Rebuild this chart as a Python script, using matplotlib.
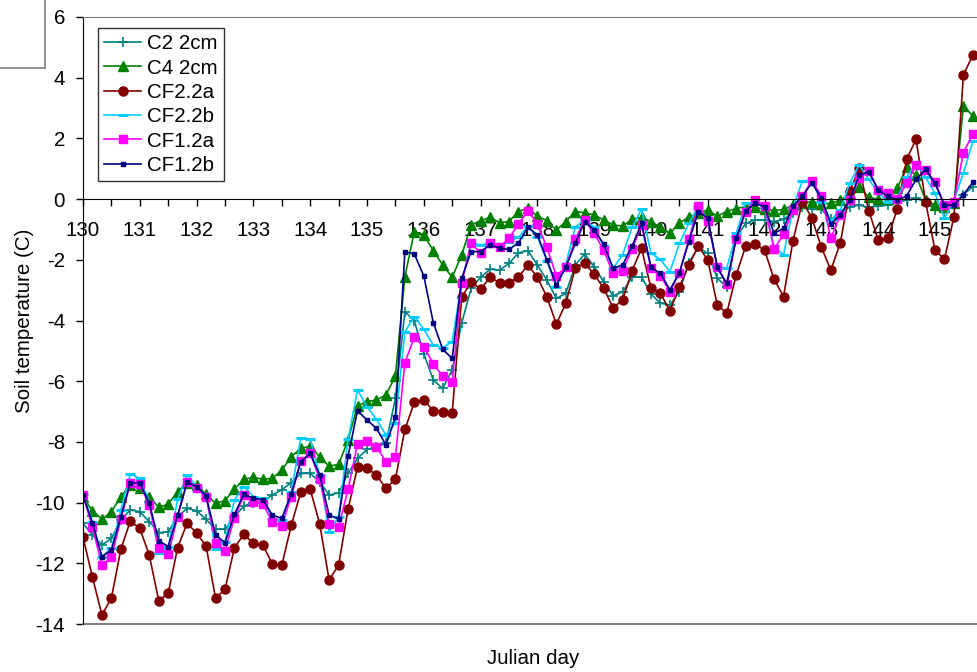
import numpy as np
import matplotlib
matplotlib.use("Agg")
import matplotlib.pyplot as plt
from matplotlib.lines import Line2D

plt.rcParams['font.family'] = ['Liberation Sans', 'DejaVu Sans']
plt.rcParams['axes.unicode_minus'] = False

# readings every 4 hours from day 130
start_day = 130
step = 1 / 6

c2_2cm = [-10.68, -11.07, -11.40, -11.18, -10.57, -10.24, -10.30, -10.63, -10.99, -10.96,
          -10.46, -10.19, -10.27, -10.55, -10.88, -10.88, -10.46, -10.11, -10.00, -9.97,
          -9.75, -9.58, -9.34, -9.04, -9.04, -9.31, -9.75, -9.68,
          -9.04, -8.54, -8.25, -8.16, -8.05, -6.57, -3.71, -4.01, -5.10, -5.96,
          -6.24, -5.63, -4.09, -2.94, -2.58, -2.31, -2.34, -2.12, -1.77, -1.70,
          -2.17, -2.67, -3.27,
          -3.11, -2.17, -1.81, -2.23, -2.72, -3.19, -3.05, -2.58, -2.56, -3.13,
          -3.43, -3.49, -3.05, -2.10, -1.59, -1.79, -2.61, -2.89, -1.26, -0.80,
          -0.69, -0.69, -0.74, -0.67, -0.45, -0.27, -0.34, -0.34, -0.67, -0.49,
          -0.25, -0.20, -0.27, -0.23, -0.20, -0.12, -0.03, 0.02, -0.08, -0.36,
          -0.38, -0.14, 0.15, 0.41]

c4_2cm = [-9.83, -10.27, -10.55, -10.30, -9.80, -9.42, -9.53, -9.80, -10.16, -10.05,
          -9.64, -9.34, -9.42, -9.72, -10.02, -9.94, -9.55, -9.23, -9.17, -9.23,
          -9.20, -8.93, -8.49, -8.21, -8.14, -8.49, -8.80, -8.74,
          -7.94, -6.81, -6.67, -6.62, -6.45, -5.83, -2.56, -1.07, -1.18, -1.70,
          -2.17, -2.58, -1.84, -0.85, -0.71, -0.60, -0.78, -0.74, -0.41, -0.30,
          -0.56, -0.71, -1.02,
          -0.74, -0.41, -0.45, -0.52, -0.69, -0.85, -0.89, -0.67, -0.60, -0.74,
          -0.93, -1.13, -0.78, -0.60, -0.45, -0.36, -0.56, -0.41, -0.31, -0.25,
          -0.27, -0.34, -0.38, -0.34, -0.20, -0.12, -0.08, -0.16, -0.14, -0.03,
          0.17, 0.41, 0.06, -0.01, -0.01, 0.36, 1.05, 0.79, -0.03, -0.20,
          -0.27, -0.14, 3.07, 2.74]

cf22a = [-11.14, -12.46, -13.70, -13.15, -11.53, -10.61, -10.85, -11.73, -13.23, -12.99,
         -11.48, -10.68, -11.01, -11.43, -13.15, -12.86, -11.48, -11.05, -11.34, -11.40,
         -12.02, -12.06, -10.75, -9.66, -9.56, -10.70, -12.55, -12.06,
         -10.22, -8.82, -8.87, -9.09, -9.53, -9.23, -7.59, -6.70, -6.62, -6.97,
         -7.03, -7.04, -3.24, -2.72, -2.97, -2.58, -2.75, -2.78, -2.56, -2.17,
         -2.58, -3.22, -4.12,
         -3.43, -2.28, -2.12, -2.47, -2.94, -3.58, -3.32, -2.36, -1.62, -2.94,
         -3.11, -3.68, -2.89, -2.17, -1.55, -2.01, -3.49, -3.76, -2.50, -1.55,
         -1.48, -1.68, -2.64, -3.21, -1.37, -0.08, -0.63, -1.59, -2.34, -1.44,
         0.28, 1.01, -0.38, -1.35, -1.29, -0.34, 1.31, 1.97, -0.08, -1.68,
         -1.98, -0.58, 4.09, 4.75]

cf22b = [-9.72, -10.63, -11.78, -11.51, -10.24, -9.06, -9.20, -9.97, -11.67, -11.47,
         -9.89, -9.09, -9.47, -9.75, -11.54, -11.29, -9.91, -9.47, -9.80, -9.86,
         -10.55, -10.57, -9.64, -7.88, -7.92, -9.09, -10.96, -10.46,
         -7.92, -6.29, -6.84, -7.26, -7.77, -7.37, -4.37, -3.87, -4.29, -4.81,
         -4.89, -4.70, -2.75, -1.44, -1.51, -1.46, -1.51, -1.40, -1.26, -0.89,
         -1.24, -2.03, -2.91,
         -2.14, -0.93, -0.67, -0.93, -1.55, -2.28, -1.84, -0.93, -0.33, -1.79,
         -1.99, -2.39, -1.46, -0.80, -0.25, -0.67, -2.21, -2.28, -1.13, -0.14,
         -0.14, -0.27, -1.55, -1.84, -0.27, 0.61, 0.61, -0.08, -0.69, -0.36,
         0.54, 1.12, 0.65, 0.21, -0.08, 0.02, 0.72, 1.18, 0.72, 0.19,
         -0.63, -0.03, 0.85, 1.90]

cf12a = [-9.75, -10.81, -12.07, -11.80, -10.55, -9.34, -9.40, -10.08, -11.51, -11.71,
         -10.46, -9.32, -9.53, -9.80, -11.32, -11.58, -10.50, -9.76, -9.97, -10.05,
         -10.63, -10.77, -9.80, -8.64, -8.38, -9.21, -10.70, -10.81,
         -9.56, -8.07, -7.96, -8.16, -8.65, -8.51, -5.39, -4.56, -4.86, -5.43,
         -5.83, -6.02, -2.78, -1.44, -1.79, -1.46, -1.57, -1.29, -0.82, -0.38,
         -0.82, -1.59, -2.53,
         -2.25, -1.33, -0.69, -1.13, -1.68, -2.45, -2.36, -1.66, -0.85, -2.28,
         -2.53, -3.05, -2.43, -1.33, -0.23, -0.72, -2.25, -2.80, -1.33, -0.41,
         -0.03, -0.23, -1.66, -1.15, -0.36, 0.10, 0.61, 0.10, -1.29, -0.52,
         -0.03, 0.68, 0.94, 0.30, 0.21, -0.01, 0.52, 1.12, 0.96, 0.57,
         -0.20, -0.08, 1.53, 2.14]

cf12b = [-9.75, -10.68, -11.78, -11.56, -10.46, -9.34, -9.36, -10.02, -11.25, -11.45,
         -10.41, -9.33, -9.47, -9.78, -11.07, -11.32, -10.38, -9.72, -9.86, -9.91,
         -10.41, -10.52, -9.72, -8.65, -8.38, -9.09, -10.41, -10.54,
         -8.47, -6.97, -7.28, -7.55, -8.10, -7.19, -1.73, -1.81, -2.53, -4.07,
         -4.95, -5.25, -2.61, -1.73, -1.73, -1.51, -1.62, -1.66, -1.44, -0.93,
         -1.18, -2.00, -2.83,
         -2.25, -1.46, -0.74, -1.02, -1.48, -2.28, -2.17, -1.55, -0.80, -2.25,
         -2.45, -2.99, -2.43, -1.40, -0.41, -0.63, -2.25, -2.78, -1.29, -0.38,
         -0.14, -0.25, -1.13, -0.96, -0.23, 0.10, 0.54, 0.02, -0.82, -0.52,
         -0.03, 0.79, 0.90, 0.30, 0.10, -0.03, 0.10, 0.65, 0.98, 0.52,
         -0.20, -0.20, 0.15, 0.55]

labels = ['C2 2cm', 'C4 2cm', 'CF2.2a', 'CF2.2b', 'CF1.2a', 'CF1.2b']
series = [c2_2cm, c4_2cm, cf22a, cf22b, cf12a, cf12b]

styles = [
    dict(color='#008080', marker='+', ms=7, mew=1.2),
    dict(color='#008000', marker='^', ms=6.5),
    dict(color='#800000', marker='o', ms=6.5),
    dict(color='#00CCFF', marker='_', ms=7, mew=2.2),
    dict(color='#FF00FF', marker='s', ms=6),
    dict(color='#000080', marker='s', ms=2.6),
]

FS = 14.8
W, H = 978, 672
fig = plt.figure(figsize=(W / 100, H / 100), dpi=100)
ax = fig.add_axes([83 / W, 1 - 624 / H, 1 - 83 / W, (624 - 17) / H])

for vals, lab, st in zip(series, labels, styles):
    days = start_day + step * np.arange(len(vals))
    ax.plot(days, vals, lw=1.2, label=lab, **st)

ax.set_xlim(130, 130 + (W - 83) / 56.8)
ax.set_ylim(-14, 6)

# x axis crosses at zero, plot-area frame in grey
ax.spines['bottom'].set_position(('data', 0))
ax.spines['bottom'].set_color('black')
ax.spines['left'].set_color('black')
ax.spines['top'].set_color('#808080')
ax.spines['right'].set_visible(False)
ax.axhline(-14, color='#808080', lw=1.5, clip_on=False)

xt = np.arange(130, 146, 0.5)
ax.set_xticks(xt)
ax.set_xticklabels([str(int(t)) if t == int(t) else '' for t in xt])
ax.set_yticks(np.arange(-14, 7, 2))
ax.tick_params(axis='x', direction='out', length=5, width=1, pad=10.5, labelsize=FS)
ax.tick_params(axis='y', direction='out', length=5, width=1, pad=8, labelsize=FS)

leg = ax.legend(loc='upper left', bbox_to_anchor=((98 - 83) / 895, 1 - (28 - 17) / 607),
                borderaxespad=0, numpoints=1, fontsize=FS, frameon=True, fancybox=False,
                edgecolor='black', handlelength=1.8, handletextpad=0.3,
                labelspacing=0.26, borderpad=0.3)
leg.get_frame().set_linewidth(1.0)

fig.text(25 / W, 1 - 321 / H, 'Soil temperature (C)', rotation=90, ha='center', va='center', fontsize=FS)
fig.text(533 / W, 1 - 658 / H, 'Julian day', ha='center', va='center', fontsize=FS)

# corner of the neighbouring box
fig.add_artist(Line2D([45 / W, 45 / W], [1, 1 - 68 / H], color='#808080', lw=1.2))
fig.add_artist(Line2D([0, 45 / W], [1 - 68 / H, 1 - 68 / H], color='#808080', lw=1.2))

fig.savefig('out.png', dpi=100)
